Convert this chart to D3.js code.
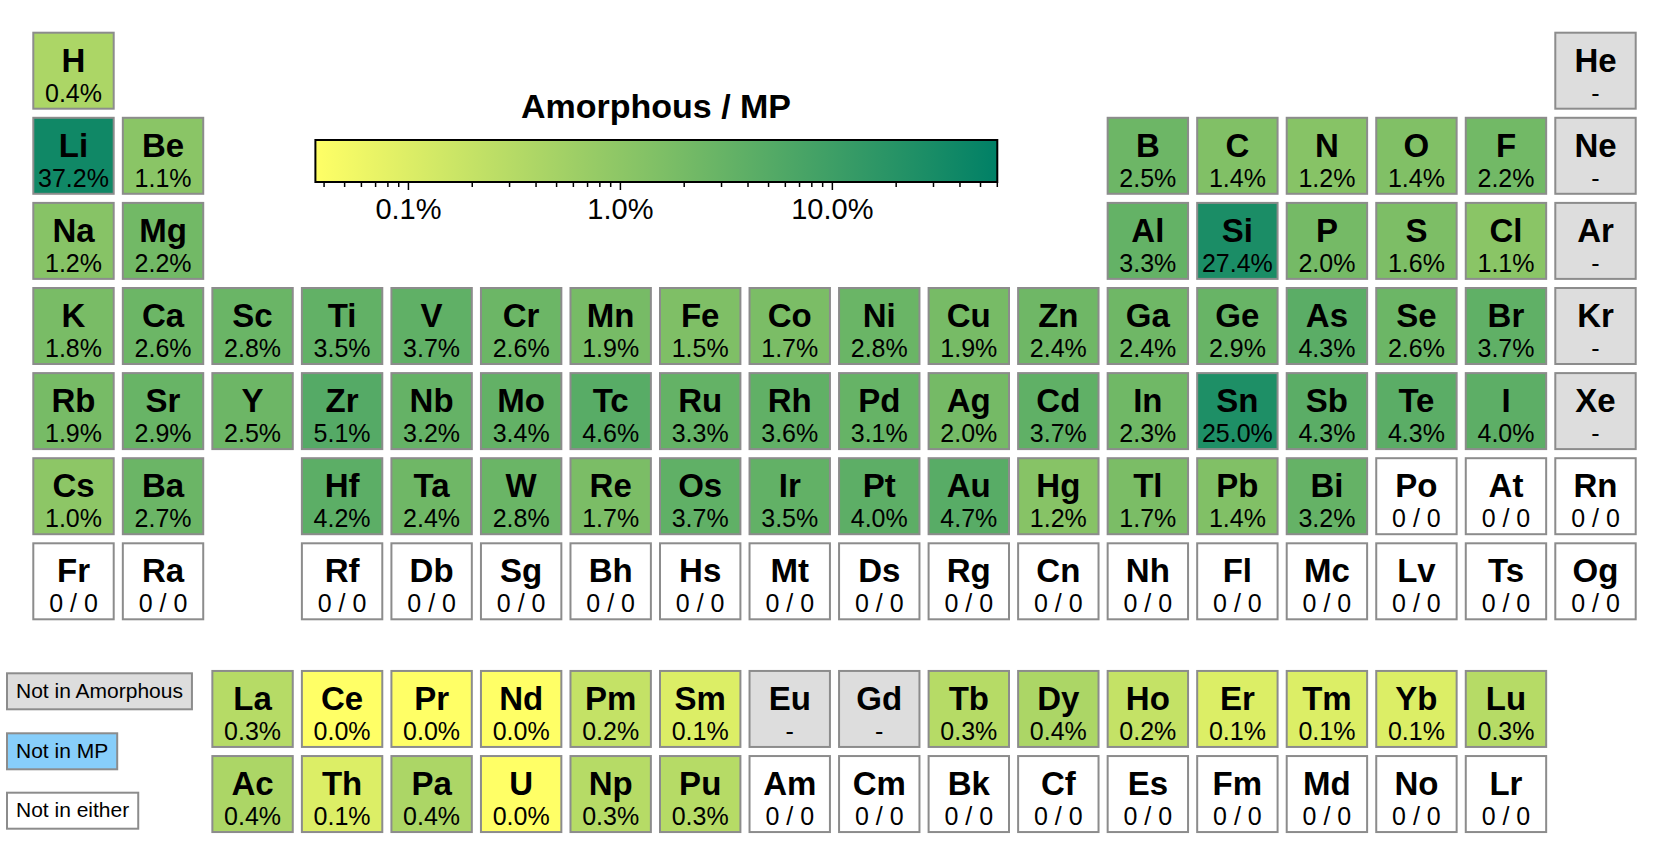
<!DOCTYPE html>
<html>
<head>
<meta charset="utf-8">
<script src="https://cdn.jsdelivr.net/npm/d3@7"></script>
<style>
  body { margin: 0; background: #fff; }
  text { font-family: "Liberation Sans", Arial, Helvetica, sans-serif; }
</style>
</head>
<body>
<div id="chart"></div>
<script>
// element symbols in atomic-number order
const symbols = ["H","He","Li","Be","B","C","N","O","F","Ne","Na","Mg","Al","Si","P","S","Cl","Ar",
  "K","Ca","Sc","Ti","V","Cr","Mn","Fe","Co","Ni","Cu","Zn","Ga","Ge","As","Se","Br","Kr",
  "Rb","Sr","Y","Zr","Nb","Mo","Tc","Ru","Rh","Pd","Ag","Cd","In","Sn","Sb","Te","I","Xe",
  "Cs","Ba","La","Ce","Pr","Nd","Pm","Sm","Eu","Gd","Tb","Dy","Ho","Er","Tm","Yb","Lu",
  "Hf","Ta","W","Re","Os","Ir","Pt","Au","Hg","Tl","Pb","Bi","Po","At","Rn",
  "Fr","Ra","Ac","Th","Pa","U","Np","Pu","Am","Cm","Bk","Cf","Es","Fm","Md","No","Lr",
  "Rf","Db","Sg","Bh","Hs","Mt","Ds","Rg","Cn","Nh","Fl","Mc","Lv","Ts","Og"];

// Amorphous / MP ratio in percent; "-" = not in Amorphous, "0/0" = in neither
const ratios = [0.4,"-",37.2,1.1,2.5,1.4,1.2,1.4,2.2,"-",1.2,2.2,3.3,27.4,2.0,1.6,1.1,"-",
  1.8,2.6,2.8,3.5,3.7,2.6,1.9,1.5,1.7,2.8,1.9,2.4,2.4,2.9,4.3,2.6,3.7,"-",
  1.9,2.9,2.5,5.1,3.2,3.4,4.6,3.3,3.6,3.1,2.0,3.7,2.3,25.0,4.3,4.3,4.0,"-",
  1.0,2.7,0.3,0.0,0.0,0.0,0.2,0.1,"-","-",0.3,0.4,0.2,0.1,0.1,0.1,0.3,
  4.2,2.4,2.8,1.7,3.7,3.5,4.0,4.7,1.2,1.7,1.4,3.2,"0/0","0/0","0/0",
  "0/0","0/0",0.4,0.1,0.4,0.0,0.3,0.3,"0/0","0/0","0/0","0/0","0/0","0/0","0/0","0/0","0/0",
  "0/0","0/0","0/0","0/0","0/0","0/0","0/0","0/0","0/0","0/0","0/0","0/0","0/0","0/0","0/0"];

const cbarDomain = [0.0364, 60];
const cbarTicks = [0.1, 1, 10];
const cbarTickLabels = ["0.1%", "1.0%", "10.0%"];
const legendLabels = ["Not in Amorphous", "Not in MP", "Not in either"];
const legendColors = ["#dddddd", "#87cefa", "#ffffff"];

const W = 1660, H = 866;
const tileW = 82.4, tileH = 78;
const stroke = "#8c8c8c";

const svg = d3.select("#chart").append("svg")
  .attr("width", W).attr("height", H);

// column / row -> pixel
const x = d3.scaleLinear().domain([1, 18]).range([32.3, 1554.3]);
const y = d3.scaleLinear().domain([1, 7]).range([31.7, 542.3]);

const color = d3.scaleSequentialLog(d3.interpolateRgb("#ffff66", "#008066"))
  .domain(cbarDomain).clamp(true);

function position(z) {
  if (z === 1) return [1, 1];
  if (z === 2) return [18, 1];
  if (z <= 18) {
    const p = z <= 10 ? 2 : 3, s = z <= 10 ? 2 : 10;
    const i = z - s;
    return [i <= 2 ? i : i + 10, p];
  }
  if (z <= 36) return [z - 18, 4];
  if (z <= 54) return [z - 36, 5];
  if (z >= 57 && z <= 71) return [3 + z - 57, 8.5];
  if (z >= 89 && z <= 103) return [3 + z - 89, 9.5];
  if (z <= 56) return [z - 54, 6];
  if (z <= 86) return [z - 68, 6];
  if (z <= 88) return [z - 86, 7];
  return [z - 100, 7];
}

const cells = symbols.map((s, i) => {
  const [col, row] = position(i + 1);
  const v = ratios[i];
  let fill, label;
  if (v === "-") { fill = "#dddddd"; label = "-"; }
  else if (v === "0/0") { fill = "#ffffff"; label = "0 / 0"; }
  else { fill = color(Math.max(v, cbarDomain[0])); label = v.toFixed(1) + "%"; }
  return {s, col, row, fill, label};
});

const g = svg.selectAll("g.cell").data(cells).enter().append("g")
  .attr("class", "cell")
  .attr("transform", d => `translate(${x(d.col)},${y(d.row)})`);

g.append("rect")
  .attr("x", 1).attr("y", 1)
  .attr("width", tileW - 2).attr("height", tileH - 2)
  .attr("fill", d => d.fill)
  .attr("stroke", stroke).attr("stroke-width", 2);

g.append("text")
  .attr("x", tileW / 2).attr("y", 40)
  .attr("text-anchor", "middle")
  .attr("font-size", 33).attr("font-weight", "bold")
  .text(d => d.s);

g.append("text")
  .attr("x", tileW / 2).attr("y", 70)
  .attr("text-anchor", "middle")
  .attr("font-size", 25)
  .text(d => d.label);

// colour bar
const cb = d3.scaleLog().domain(cbarDomain).range([315.4, 997.3]);
const cbTop = 140, cbH = 42;

const grad = svg.append("defs").append("linearGradient")
  .attr("id", "cbgrad").attr("x1", "0%").attr("x2", "100%");
d3.range(0, 1.0001, 0.1).forEach(t => {
  grad.append("stop").attr("offset", (t * 100) + "%")
    .attr("stop-color", d3.interpolateRgb("#ffff66", "#008066")(t));
});

svg.append("rect")
  .attr("x", cb.range()[0]).attr("y", cbTop)
  .attr("width", cb.range()[1] - cb.range()[0]).attr("height", cbH)
  .attr("fill", "url(#cbgrad)")
  .attr("stroke", "#000").attr("stroke-width", 2);

svg.append("text")
  .attr("x", 656).attr("y", 118)
  .attr("text-anchor", "middle")
  .attr("font-size", 34).attr("font-weight", "bold")
  .text("Amorphous / MP");

const minor = [];
for (let e = -2; e <= 1; e++) {
  for (let m = 1; m <= 9; m++) {
    const v = m * Math.pow(10, e);
    if (v >= cbarDomain[0] && v <= cbarDomain[1]) minor.push(v);
  }
}

svg.selectAll("line.tick").data(minor).enter().append("line")
  .attr("x1", d => cb(d)).attr("x2", d => cb(d))
  .attr("y1", cbTop + cbH)
  .attr("y2", d => cbTop + cbH + (cbarTicks.includes(d) ? 8 : 5))
  .attr("stroke", "#000").attr("stroke-width", 1.5);

svg.selectAll("text.tl").data(cbarTicks).enter().append("text")
  .attr("x", d => cb(d)).attr("y", 219)
  .attr("text-anchor", "middle")
  .attr("font-size", 29)
  .text((d, i) => cbarTickLabels[i]);

// legend
const legY = [672.3, 732.3, 791.7];
legendLabels.forEach((lab, i) => {
  const lg = svg.append("g").attr("transform", `translate(6,${legY[i]})`);
  const r = lg.append("rect").attr("x", 1).attr("y", 1).attr("height", 36)
    .attr("fill", legendColors[i]).attr("stroke", stroke).attr("stroke-width", 2);
  const t = lg.append("text").attr("x", 10).attr("y", 25.5)
    .attr("font-size", 21).text(lab);
  r.attr("width", t.node().getComputedTextLength() + 18);
});
</script>
</body>
</html>
